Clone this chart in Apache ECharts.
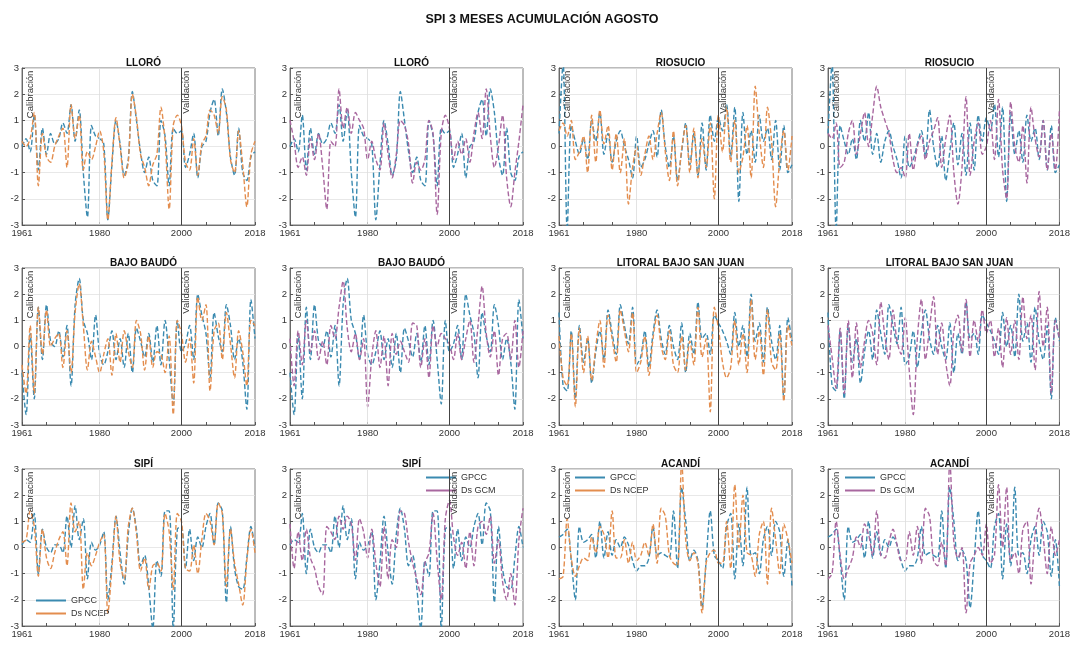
<!DOCTYPE html>
<html>
<head>
<meta charset="utf-8">
<script src="https://cdn.jsdelivr.net/npm/echarts@6/dist/echarts.min.js"></script>
<style>
html,body{margin:0;padding:0;background:#fff;}
#chart{width:1073px;height:645px;}
</style>
</head>
<body>
<div id="chart"></div>
<script>
// ---------------- DATA ----------------
const firstYear = 1961, lastYear = 2018;
const xTickLabels = [1961, 1980, 2000, 2018];
const splitYear = 2000;

// SPI-3 (agosto), 1961..2018
const lloroGPCC = [0.0,0.3,-0.2,1.2,-0.9,0.7,-0.3,0.5,0.1,0.3,0.9,0.5,1.6,0.2,1.4,-1.0,-2.7,0.8,0.4,0.3,0.1,-2.8,-0.7,1.0,0.1,-1.1,-0.5,2.1,1.0,-0.2,-1.0,-0.4,-1.3,-1.5,1.0,0.4,-1.5,0.7,0.5,0.6,-0.8,-0.3,0.5,-1.2,0.0,0.2,1.3,1.8,0.4,2.2,1.3,-0.4,-1.1,0.7,-1.0,-1.3,-0.4,-0.2];
const lloroNCEP = [0.2,0.0,0.3,1.3,-1.5,0.5,-0.4,-0.6,0.0,0.4,0.7,-0.8,1.6,0.3,1.2,-0.9,-0.2,-0.5,0.0,0.6,-0.2,-2.8,-0.6,1.1,0.0,-1.2,-0.6,2.0,1.1,-0.3,-0.8,-1.5,-0.7,-0.3,1.5,0.2,-2.4,0.8,1.2,0.8,-0.6,-0.9,0.3,-1.1,0.1,0.4,1.4,1.2,0.5,1.9,1.4,-0.5,-1.0,0.6,-0.7,-2.3,-0.3,0.2];
const lloroGCM  = [1.0,0.2,-0.8,-0.4,-1.1,0.3,-0.5,0.5,-0.8,-2.4,0.2,0.0,2.2,0.7,1.5,0.5,1.3,1.0,0.7,-0.5,0.2,-0.5,-0.9,0.9,-0.3,-1.2,-0.3,1.0,0.8,0.1,-1.4,-0.6,-0.9,-0.5,1.0,0.5,-2.6,0.5,1.2,0.7,-0.5,0.2,-0.3,0.3,-0.6,0.5,1.3,0.3,2.2,0.4,-0.8,0.0,1.2,-1.2,-2.3,-1.0,0.2,1.6];

const riosucioGPCC = [0.5,3.2,-3.2,0.8,0.2,-0.3,0.3,-0.5,1.0,0.2,1.3,-0.3,0.5,-0.6,0.2,0.6,0.0,-0.5,-1.2,0.4,-0.8,-0.5,0.1,0.6,-0.4,1.4,0.0,-0.8,0.4,-1.3,-0.2,0.9,-0.7,0.5,-1.1,0.9,-0.9,1.2,0.2,1.1,0.6,1.6,-0.4,1.5,-2.1,1.3,-0.3,0.6,-0.6,1.2,0.2,0.7,-0.5,1.0,-0.9,0.8,-1.0,-0.7];
const riosucioNCEP = [0.6,0.9,0.4,1.0,-0.5,-0.2,0.4,-1.0,1.2,-0.6,1.4,0.1,0.8,-0.9,0.5,-1.0,0.3,-2.2,-0.8,0.0,-1.1,-0.3,0.4,-0.5,0.5,1.3,-0.2,-1.3,0.6,-1.5,-0.1,0.8,-1.0,0.7,-1.2,0.3,-0.8,0.9,-2.0,1.2,-0.2,1.5,-0.6,1.0,-1.0,-0.4,0.8,-1.2,2.3,0.5,-0.8,1.5,0.2,-2.3,-0.5,0.6,-0.9,0.4];
const riosucioGCM  = [0.5,0.3,0.9,-0.8,-0.6,0.5,1.0,-0.3,0.5,1.3,0.0,1.2,2.3,1.5,1.0,0.5,-0.5,-1.0,-0.8,-1.2,0.5,-0.9,0.0,0.4,-0.5,0.2,0.6,1.1,-0.8,0.3,1.2,-1.0,-2.2,-0.8,1.9,-1.1,0.2,0.9,-0.3,0.0,1.0,-0.5,1.8,-0.9,-2.0,1.7,0.0,-0.6,0.8,-1.4,1.5,0.3,-0.4,1.0,-0.9,0.5,-0.9,1.4];

const bajoBaudoGPCC = [-1.0,-2.6,0.5,-2.0,1.5,-0.5,1.6,0.2,0.0,0.6,-0.4,0.8,-1.5,1.6,2.6,1.0,0.5,-0.5,1.2,-0.3,-0.7,-0.2,0.6,-0.5,0.3,-0.8,0.5,-1.0,0.7,0.2,-0.4,0.5,-0.6,0.8,-0.7,1.0,-0.5,-2.2,1.0,-0.2,0.1,0.8,-0.5,2.0,1.2,0.5,-1.2,1.3,0.4,-0.2,1.6,0.8,-0.5,0.3,-0.6,-2.4,1.8,0.3];
const bajoBaudoNCEP = [-0.7,-1.8,0.8,-1.8,1.5,-0.3,1.4,0.0,0.3,0.5,-0.8,0.6,-1.0,1.3,2.4,0.8,-0.9,0.2,-0.4,-1.0,-0.3,0.3,-1.1,0.5,-0.6,0.6,-0.2,-0.8,1.0,0.5,-0.9,0.4,-0.8,-0.2,-0.3,-1.0,0.4,-2.6,1.0,0.5,-0.6,0.3,-1.4,1.9,1.0,1.6,-1.7,0.6,0.9,-0.5,1.3,0.1,-1.2,0.6,-0.2,-1.5,1.0,0.8];
const bajoBaudoGCM  = [0.3,-1.5,0.6,-0.7,1.0,-0.2,0.6,-0.5,0.2,-0.7,0.8,0.3,1.5,2.5,0.7,-0.2,0.5,-0.5,0.3,-2.3,-0.4,0.6,-0.8,0.4,-1.5,0.5,-0.3,0.2,-0.2,-0.6,0.9,0.8,-0.8,0.3,-1.2,0.8,0.0,0.5,0.3,0.1,-0.5,0.5,-0.5,0.3,1.0,-0.6,0.8,2.3,0.5,-0.4,0.6,-1.1,0.3,0.5,-0.5,1.0,-0.8,0.6];

const litoralGPCC = [1.3,-1.5,-1.7,0.6,-2.0,0.8,-0.6,0.3,-1.4,-0.2,0.6,-0.5,1.4,0.5,-0.3,1.6,0.8,0.1,1.5,-0.7,-0.4,0.6,-0.8,0.5,1.4,0.3,-0.3,0.8,0.0,-0.5,0.9,-1.0,0.5,-0.3,1.7,0.3,0.5,-0.3,1.2,0.9,0.6,0.2,-0.3,1.3,0.0,0.8,-0.4,2.0,0.2,0.9,-0.6,1.5,0.2,-0.5,0.8,-2.0,1.1,0.2];
const litoralNCEP = [0.4,-1.2,-1.5,0.5,-2.3,0.7,-1.0,0.4,-1.3,0.0,1.0,-0.8,1.2,0.3,-0.6,1.4,0.6,-0.2,1.3,-1.0,-0.6,0.4,-1.1,0.3,1.2,0.0,-0.5,0.6,-0.7,-1.0,0.4,-0.9,0.2,-0.7,1.5,-0.4,0.3,-2.5,1.5,0.7,-0.6,-1.2,-0.8,1.0,-0.7,0.5,-1.0,1.8,-0.5,0.6,-1.1,1.4,-0.6,-0.9,0.5,-2.1,0.8,0.0];
const litoralGCM  = [0.8,-0.4,-1.6,0.7,-1.8,1.0,-1.2,0.9,-0.8,0.2,1.0,0.5,-0.7,1.7,0.4,-0.5,1.4,0.2,-0.3,1.1,-0.9,-2.6,0.3,1.8,-0.5,0.7,1.9,-0.3,0.9,-0.6,-1.5,0.6,1.2,-0.2,1.8,-0.4,1.0,0.2,1.4,0.5,1.0,-0.4,0.7,-0.8,1.1,-0.3,1.0,-0.5,1.9,0.3,1.2,-0.9,2.1,0.0,1.5,-1.8,1.0,0.3];

const sipiGPCC = [0.1,0.3,0.2,1.3,-1.0,0.7,0.0,-0.2,0.1,0.1,-0.2,1.2,0.0,1.6,0.3,1.1,-1.2,0.2,-0.1,0.1,0.6,-2.0,-0.6,1.2,-0.2,-1.4,0.5,1.5,0.7,-0.7,-0.3,-1.5,-3.1,-0.5,-1.1,1.4,1.4,-3.1,0.7,0.8,-0.8,0.7,-0.5,0.4,0.0,0.8,1.3,0.1,1.7,1.4,-2.1,0.8,-0.8,-1.5,-1.6,-0.4,0.8,0.0];
const sipiNCEP = [0.2,0.3,1.4,0.8,-1.1,0.7,-0.4,-0.8,-0.2,0.3,0.6,-0.7,1.7,0.6,1.0,-1.6,-0.2,-0.7,-0.3,0.2,0.5,-2.5,-0.8,1.2,-0.6,-1.2,0.8,1.5,0.5,-0.9,-0.4,-1.6,-0.7,-0.6,-0.9,1.3,0.6,-1.6,1.3,1.0,-0.8,-0.9,0.1,-1.0,0.3,1.3,1.0,0.1,1.7,1.3,-1.5,0.7,-0.6,-1.4,-2.2,-0.5,0.7,-0.2];
const sipiGCM  = [0.9,-0.8,0.6,-0.5,0.7,-0.4,-0.8,-1.5,-1.8,0.8,0.6,0.3,1.2,0.7,1.2,0.9,-0.5,1.1,0.6,-0.4,0.7,-0.6,-1.5,0.8,-1.2,0.3,0.0,1.4,1.3,0.2,-0.6,-1.2,-1.8,-0.6,-0.2,1.3,-0.5,-2.0,1.1,1.8,0.4,-0.3,0.2,-0.8,0.6,-0.7,0.8,1.0,0.5,1.2,-0.6,0.3,-1.3,-2.0,-1.0,-2.2,0.3,1.5];

const acandiGPCC = [0.4,0.5,0.7,-0.5,-2.0,0.8,0.2,0.3,0.5,-0.4,1.0,-0.4,0.6,-0.3,0.3,0.0,0.4,0.1,-0.5,-0.9,-0.7,-0.7,-0.4,0.8,-0.3,-0.2,-0.3,-0.4,1.4,-0.8,2.3,1.0,-0.5,-0.1,-0.5,-2.3,-0.5,1.4,-0.3,-0.5,-0.8,0.8,1.3,-1.2,0.9,-0.7,2.3,-0.3,-0.2,-1.0,0.3,0.8,-0.3,1.0,0.6,-1.1,0.3,-1.5];
const acandiNCEP = [-1.2,-1.1,1.1,-0.4,-1.1,-0.7,-0.4,-0.5,0.4,-0.2,0.8,0.5,-0.4,1.4,-0.4,-0.4,0.3,-0.6,0.2,-0.5,-0.3,0.2,-0.3,0.9,-0.6,1.5,1.2,-0.3,-0.6,-0.7,3.3,0.3,-0.5,-0.2,-0.6,-2.5,-0.6,-0.2,-0.1,-0.6,-0.6,1.0,-0.8,2.4,0.0,2.0,-0.2,-0.3,-1.1,0.5,1.0,-1.4,1.5,0.3,-1.0,0.9,0.3,-0.6];
const acandiGCM  = [-1.2,-1.0,1.0,-0.3,-1.2,-0.8,-0.4,0.4,0.0,0.9,0.5,-0.3,1.4,-0.3,-0.4,0.2,0.7,0.1,-0.5,-0.5,0.6,-0.3,0.8,-0.6,1.5,1.2,-0.5,-0.7,0.2,-0.7,3.3,0.2,-0.4,0.0,-2.5,-0.6,-0.3,0.0,-0.3,0.9,-0.6,-0.3,2.4,0.0,2.3,-0.5,-0.2,-1.0,0.7,1.0,-1.4,0.5,1.5,0.4,-1.0,0.8,-0.3,0.3];

const panelTitles = ['LLORÓ','LLORÓ','RIOSUCIO','RIOSUCIO','BAJO BAUDÓ','BAJO BAUDÓ','LITORAL BAJO SAN JUAN','LITORAL BAJO SAN JUAN','SIPÍ','SIPÍ','ACANDÍ','ACANDÍ'];
const obsSeries = [lloroGPCC,lloroGPCC,riosucioGPCC,riosucioGPCC,bajoBaudoGPCC,bajoBaudoGPCC,litoralGPCC,litoralGPCC,sipiGPCC,sipiGPCC,acandiGPCC,acandiGPCC];
const modSeries = [lloroNCEP,lloroGCM,riosucioNCEP,riosucioGCM,bajoBaudoNCEP,bajoBaudoGCM,litoralNCEP,litoralGCM,sipiNCEP,sipiGCM,acandiNCEP,acandiGCM];
const modNames = ['Ds NCEP','Ds GCM','Ds NCEP','Ds GCM','Ds NCEP','Ds GCM','Ds NCEP','Ds GCM','Ds NCEP','Ds GCM','Ds NCEP','Ds GCM'];
const obsName = 'GPCC';
const mainTitle = 'SPI 3 MESES ACUMULACIÓN AGOSTO';
const calText = 'Calibración', valText = 'Validación';

// ---------------- LAYOUT / STYLE ----------------
const FONT = 'Liberation Sans, Arial, sans-serif';
const colLeft = [22, 290, 559, 828];
const rowTop = [68, 268, 469];
const gW = 233, gH = 157;
const colors = {'GPCC':'#3a8ab0','Ds NCEP':'#e38d4e','Ds GCM':'#a8679f'};

const years = [];
for (let y = firstYear; y <= lastYear; y++) years.push(y);

const grids = [], xAxes = [], yAxes = [], titles = [], series = [];
titles.push({text: mainTitle, left: 537, top: 8, textAlign: 'center',
  textStyle:{fontFamily:FONT, fontSize:12.5, fontWeight:'bold', color:'#111'}});

for (let i = 0; i < 12; i++) {
  const r = Math.floor(i/4), c = i % 4;
  grids.push({left: colLeft[c], top: rowTop[r], width: gW, height: gH,
    show: true, borderColor: '#555', borderWidth: 0.8, backgroundColor: '#fff'});
  titles.push({text: panelTitles[i], left: colLeft[c] + gW/2, top: rowTop[r] - 15, textAlign: 'center',
    textStyle:{fontFamily:FONT, fontSize:10, fontWeight:'bold', color:'#111'}});
  xAxes.push({type:'value', gridIndex:i, min:firstYear, max:lastYear,
    axisLine:{show:true, onZero:false, lineStyle:{color:'#555', width:0.8}},
    axisTick:{show:true, inside:true, length:3, customValues:[1961,1967,1974,1980,1987,1993,2000,2006,2012,2018], lineStyle:{color:'#555'}},
    axisLabel:{customValues: xTickLabels, fontFamily:FONT, fontSize:9.5, color:'#333', margin:3, formatter: v => String(v)},
    splitLine:{show:false}});
  yAxes.push({type:'value', gridIndex:i, min:-3, max:3, interval:1,
    axisLine:{show:true, lineStyle:{color:'#555', width:0.8}},
    axisTick:{show:true, inside:true, length:3, lineStyle:{color:'#555'}},
    axisLabel:{fontFamily:FONT, fontSize:9.5, color:'#333', margin:3},
    splitLine:{show:true, lineStyle:{color:'#e2e2e2', width:0.8}}});

  const obs = obsSeries[i], mod = modSeries[i];
  series.push({
    name: obsName, type:'line', xAxisIndex:i, yAxisIndex:i,
    data: years.map((y,k)=>[y, obs[k]]),
    showSymbol:false, symbol:'none', smooth:0.3,
    lineStyle:{color:colors[obsName], width:1.4, type:[5,2.5]},
    itemStyle:{color:colors[obsName]},
    markLine:{silent:true, symbol:'none', label:{show:false}, animation:false,
      data:[{xAxis:1980, lineStyle:{color:'#dcdcdc', width:0.8, type:'solid'}},
            {xAxis:splitYear, lineStyle:{color:'#444', width:1, type:'solid'}}]},
    markPoint:{silent:true, symbol:'circle', symbolSize:0, animation:false,
      data:[{coord:[firstYear+2.1, 2.9], value:calText},
            {coord:[splitYear+1.3, 2.9], value:valText}],
      label:{show:true, formatter: p => p.value, rotate:90, position:'inside', align:'right', verticalAlign:'middle',
        fontFamily:FONT, fontSize:9.5, color:'#333'}},
    z:2
  });
  series.push({
    name: modNames[i], type:'line', xAxisIndex:i, yAxisIndex:i,
    data: years.map((y,k)=>[y, mod[k]]),
    showSymbol:false, symbol:'none', smooth:0.3,
    lineStyle:{color:colors[modNames[i]], width:1.4, type:[5,2.5]},
    itemStyle:{color:colors[modNames[i]]},
    z:3
  });
}

const legendBase = {orient:'vertical', itemWidth:30, itemHeight:8, itemGap:4, padding:0,
  textStyle:{fontFamily:FONT, fontSize:9, color:'#333'}, icon:'path://M0,3L30,3L30,5L0,5Z',
  selectedMode:false};
const legends = [
  Object.assign({}, legendBase, {data:[obsName,'Ds NCEP'], left:36, top:596}),
  Object.assign({}, legendBase, {data:[obsName,'Ds GCM'], left:426, top:473}),
  Object.assign({}, legendBase, {data:[obsName,'Ds NCEP'], left:575, top:473}),
  Object.assign({}, legendBase, {data:[obsName,'Ds GCM'], left:845, top:473})
];

const chart = echarts.init(document.getElementById('chart'), null, {renderer:'canvas'});
chart.setOption({
  animation:false,
  backgroundColor:'#fff',
  title: titles,
  grid: grids,
  xAxis: xAxes,
  yAxis: yAxes,
  legend: legends,
  series: series
});
</script>
</body>
</html>
